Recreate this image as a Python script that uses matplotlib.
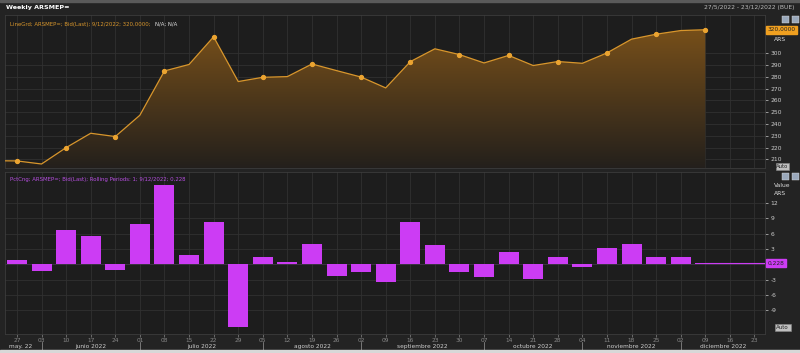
import matplotlib
matplotlib.use("Agg")
import matplotlib.pyplot as plt
import matplotlib.dates as mdates
from matplotlib.patches import Rectangle
import numpy as np
import pandas as pd

# weekly ARSMEP= quotes (Friday closes)
dates = ["2022-05-20", "2022-05-27", "2022-06-03", "2022-06-10", "2022-06-17", "2022-06-24",
         "2022-07-01", "2022-07-08", "2022-07-15", "2022-07-22", "2022-07-29",
         "2022-08-05", "2022-08-12", "2022-08-19", "2022-08-26", "2022-09-02",
         "2022-09-09", "2022-09-16", "2022-09-23", "2022-09-30", "2022-10-07",
         "2022-10-14", "2022-10-21", "2022-10-28", "2022-11-04", "2022-11-11",
         "2022-11-18", "2022-11-25", "2022-12-02", "2022-12-09"]
price = [208.8, 208.6, 206.0, 219.9, 232.1, 229.3, 247.4, 285.0, 290.5, 314.0, 276.0,
         279.6, 280.2, 290.9, 285.3, 279.8, 270.6, 292.9, 303.8, 298.9, 291.8,
         298.2, 289.6, 293.0, 291.5, 300.3, 312.0, 316.2, 319.3, 320.0]

# weekly % change bars (from 27/5)
bar_dates = dates[1:]
pct = [0.85, -1.4, 6.7, 5.5, -1.1, 7.8, 15.4, 1.8, 8.3, -12.2,
       1.4, 0.4, 3.9, -2.2, -1.6, -3.4, 8.3, 3.8, -1.6, -2.4,
       2.3, -2.8, 1.5, -0.6, 3.2, 4.0, 1.4, 1.4, 0.228]

tick_dates = ["2022-05-27", "2022-06-03", "2022-06-10", "2022-06-17", "2022-06-24",
              "2022-07-01", "2022-07-08", "2022-07-15", "2022-07-22", "2022-07-29",
              "2022-08-05", "2022-08-12", "2022-08-19", "2022-08-26", "2022-09-02",
              "2022-09-09", "2022-09-16", "2022-09-23", "2022-09-30", "2022-10-07",
              "2022-10-14", "2022-10-21", "2022-10-28", "2022-11-04", "2022-11-11",
              "2022-11-18", "2022-11-25", "2022-12-02", "2022-12-09", "2022-12-16",
              "2022-12-23"]
tick_labels = ["27", "03", "10", "17", "24", "01", "08", "15", "22", "29", "05", "12", "19",
               "26", "02", "09", "16", "23", "30", "07", "14", "21", "28", "04", "11", "18",
               "25", "02", "09", "16", "23"]
month_starts = ["2022-06-03", "2022-07-01", "2022-08-05", "2022-09-02", "2022-10-07",
                "2022-11-04", "2022-12-02"]
month_names = ["may. 22", "junio 2022", "julio 2022", "agosto 2022", "septiembre 2022",
               "octubre 2022", "noviembre 2022", "diciembre 2022"]

top_ticks = [300, 290, 280, 270, 260, 250, 240, 230, 220, 210]
bot_ticks = [12, 9, 6, 3, -3, -6, -9]

W, H = 800, 353
BG = "#1d1d1d"
GRID = "#313131"
ORANGE = "#d8962c"
MAGENTA = "#cc3cf4"


def px(x0, y0, x1, y1):
    return [x0 / W, 1 - y1 / H, (x1 - x0) / W, (y1 - y0) / H]


def to_num(lst):
    return mdates.date2num(pd.to_datetime(lst))


x = to_num(dates)
xb = to_num(bar_dates)
xt = to_num(tick_dates)
x0 = to_num(["2022-05-27"])[0]
xlim = (x0 - 3.4, x0 + 213)

fig = plt.figure(figsize=(W / 100, H / 100), dpi=100, facecolor="#232323")

# title strip
fig.patches.append(Rectangle((0, 1 - 2 / H), 1, 2 / H, transform=fig.transFigure,
                             color="#5a5a5a", zorder=0))
fig.patches.append(Rectangle((0, 0), 1, 3 / H, transform=fig.transFigure,
                             color="#d8d8d8", zorder=0))
fig.text(6 / W, 1 - 8 / H, "Weekly ARSMEP=", color="white", fontsize=4.6,
         fontweight="bold", va="center")
fig.text(795 / W, 1 - 8 / H, "27/5/2022 - 23/12/2022 (BUE)", color="#bbbbbb",
         fontsize=4.3, va="center", ha="right")

ax1 = fig.add_axes(px(5, 15, 765, 168))
ax2 = fig.add_axes(px(5, 172, 765, 334))

for ax in (ax1, ax2):
    ax.set_facecolor(BG)
    ax.set_xlim(xlim)
    ax.set_xticks(xt)
    ax.grid(True, color=GRID, lw=0.6)
    ax.set_axisbelow(True)
    for s in ax.spines.values():
        s.set_color("#3c3c3c")
        s.set_linewidth(0.6)
    ax.yaxis.tick_right()
    ax.tick_params(axis="y", colors="#cccccc", labelsize=4.3, length=2, width=0.5, pad=2)
    ax.tick_params(axis="x", colors="#888888", labelsize=4.2, length=2, width=0.5, pad=0.8)

# top panel: price line with gradient fill
ax1.set_ylim(202.6, 332.5)
ax1.set_yticks(top_ticks)
ax1.set_yticklabels([str(v) for v in top_ticks])
ax1.tick_params(axis="x", labelbottom=False, length=0)

poly = ax1.fill_between(x, price, 0, facecolor="none", edgecolor="none")
cmap = matplotlib.colors.LinearSegmentedColormap.from_list(
    "g", [(0.14, 0.125, 0.11), (0.50, 0.33, 0.10)])
grad = np.linspace(0, 1, 256).reshape(-1, 1)
im = ax1.imshow(grad, cmap=cmap, aspect="auto", origin="lower",
                extent=[xlim[0], xlim[1], 202.6, 332.5], zorder=1)
im.set_clip_path(poly.get_paths()[0], transform=ax1.transData)
ax1.plot(x, price, color=ORANGE, lw=0.9, zorder=3, marker="o", ms=2.8,
         markevery=slice(1, None, 2), mfc="#eba431", mec="#eba431")
ax1.set_xlim(xlim)
ax1.set_ylim(202.6, 332.5)

ax1.text(0.007, 0.94, "LineGrd; ARSMEP=; Bid(Last); 9/12/2022; 320,0000;", transform=ax1.transAxes,
         color=ORANGE, fontsize=3.9, va="center")
ax1.text(0.197, 0.94, "N/A; N/A", transform=ax1.transAxes, color="#dddddd",
         fontsize=3.9, va="center")
ax1.annotate("320,0000", xy=(1.0, 320), xycoords=("axes fraction", "data"),
             xytext=(2, 0), textcoords="offset points", fontsize=4.2, color="#222222",
             va="center", ha="left",
             bbox=dict(boxstyle="square,pad=0.25", fc="#f0a020", ec="#f0a020"))
ax1.text(1.012, 0.84, "ARS", transform=ax1.transAxes, color="#dddddd", fontsize=4.3,
         va="center")
ax1.text(1.015, -0.005, "Auto", transform=ax1.transAxes, color="#222222", fontsize=3.8,
         va="bottom", bbox=dict(boxstyle="square,pad=0.15", fc="#bfbfbf", ec="#888888", lw=0.4))

# bottom panel: weekly % change bars
ax2.set_ylim(-13.6, 18.0)
ax2.set_yticks(bot_ticks)
ax2.set_yticklabels([str(v) for v in bot_ticks])
ax2.set_xticklabels(tick_labels)
ax2.bar(xb, pct, width=5.7, color=MAGENTA, zorder=3)
ax2.axhline(0, color="#4a3a55", lw=0.5, zorder=2)
ax2.plot([xb[-1], xlim[1]], [pct[-1], pct[-1]], color=MAGENTA, lw=0.8, zorder=3)
ax2.text(0.007, 0.955, "PctCng; ARSMEP=; Bid(Last); Rolling Periods: 1; 9/12/2022; 0,228",
         transform=ax2.transAxes, color="#b64ee0", fontsize=3.9, va="center")
ax2.annotate("0,228", xy=(1.0, 0.228), xycoords=("axes fraction", "data"),
             xytext=(2, 0), textcoords="offset points", fontsize=4.2, color="#222222",
             va="center", ha="left",
             bbox=dict(boxstyle="square,pad=0.3", fc=MAGENTA, ec=MAGENTA))
ax2.text(1.012, 0.915, "Value", transform=ax2.transAxes, color="#dddddd", fontsize=4.3,
         va="center")
ax2.text(1.012, 0.865, "ARS", transform=ax2.transAxes, color="#dddddd", fontsize=4.3,
         va="center")
ax2.text(1.015, 0.04, "Auto", transform=ax2.transAxes, color="#222222", fontsize=4.0,
         va="center", bbox=dict(boxstyle="square,pad=0.25", fc="#bfbfbf", ec="#888888", lw=0.4))

# month separators and names under the day ticks
ms = to_num(month_starts)
bt = ax2.get_xaxis_transform()
for m in ms:
    ax2.plot([m, m], [-0.05, -0.1], color="#999999", lw=0.5, transform=bt, clip_on=False)
edges = [x0 - 3.4] + list(ms) + [xlim[1]]
for i, name in enumerate(month_names):
    cx = x0 + 1 if i == 0 else (edges[i] + edges[i + 1]) / 2
    ax2.text(cx, -0.075, name, transform=bt, color="#cfcfcf", fontsize=4.2,
             ha="center", va="center")

# small window buttons at right
for yy in (19, 176):
    for xx in (782, 792):
        fig.patches.append(Rectangle((xx / W, 1 - (yy + 4) / H), 7 / W, 7 / H,
                                     transform=fig.transFigure, fc="#9aa8bb", ec="#dddddd", lw=0.3))

plt.savefig("out.png", dpi=100, facecolor=fig.get_facecolor())
